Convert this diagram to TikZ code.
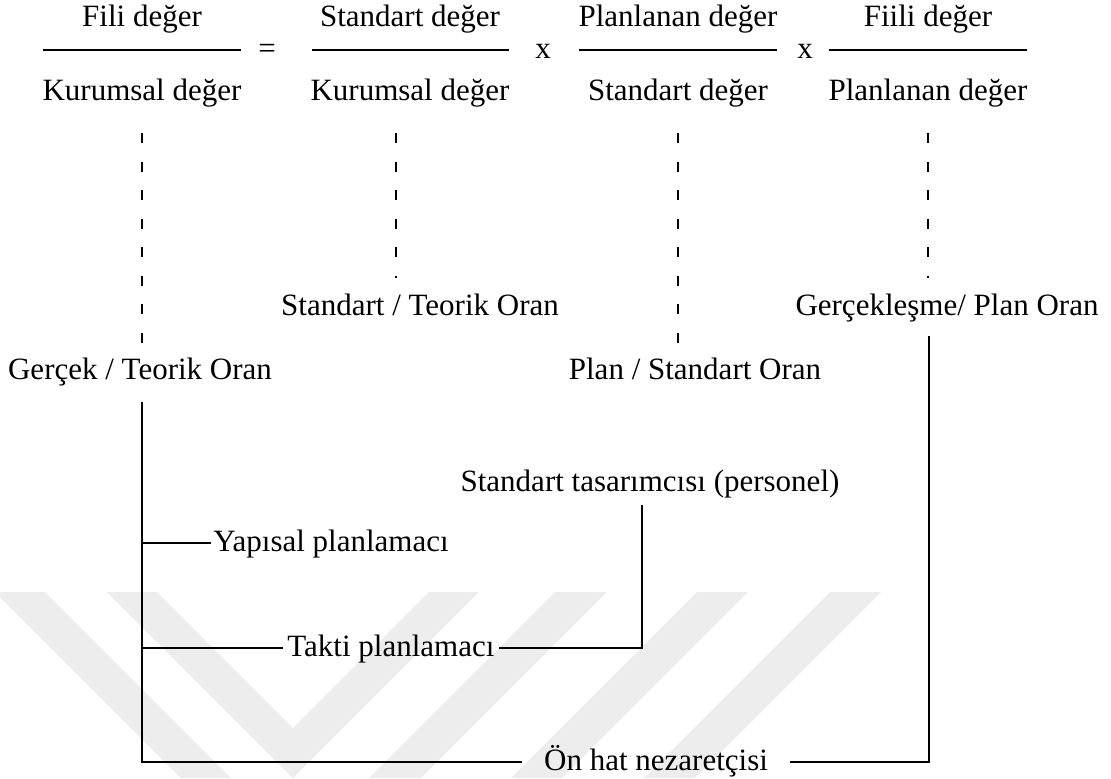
\documentclass[tikz,border=0pt]{standalone}
\usepackage{fontspec}
\setmainfont{Liberation Serif}
\usepackage{tikz}

\begin{document}
\begin{tikzpicture}[x=0.5pt, y=-0.5pt,
    lbl/.style={font=\fontsize{15.5}{18}\selectfont, text height=11pt, text depth=3pt, inner sep=2pt},
    fracln/.style={black, line width=1.3pt},
    dashln/.style={black, line width=1pt, dash pattern=on 5pt off 9.25pt},
    conn/.style={black, line width=1pt},
    wmark/.style={fill=black!7}]
    \useasboundingbox (0,0) rectangle (1111,778);

    % watermark
    \fill[wmark] (-5,592) -- (45,592) -- (231,778) -- (181,778) -- cycle;
    \fill[wmark] (107,592) -- (157,592) -- (293,728) -- (429,592) -- (479,592) -- (293,778) -- cycle;
    \fill[wmark] (555,592) -- (607,592) -- (421,778) -- (369,778) -- cycle;
    \fill[wmark] (697,592) -- (748,592) -- (562,778) -- (511,778) -- cycle;
    \fill[wmark] (830,592) -- (881,592) -- (695,778) -- (644,778) -- cycle;

    % fractions
    \node[lbl] (num1) at (142,18) {Fili değer};
    \node[lbl] (den1) at (142,92) {Kurumsal değer};
    \draw[fracln] (43,50) -- (241,50);
    \node[lbl] (eq) at (267,50) {=};
    \node[lbl] (num2) at (410,18) {Standart değer};
    \node[lbl] (den2) at (410,92) {Kurumsal değer};
    \draw[fracln] (312,50) -- (509,50);
    \node[lbl] (op1) at (543,50) {x};
    \node[lbl] (num3) at (678,18) {Planlanan değer};
    \node[lbl] (den3) at (678,92) {Standart değer};
    \draw[fracln] (579,50) -- (777,50);
    \node[lbl] (op2) at (805,50) {x};
    \node[lbl] (num4) at (928,18) {Fiili değer};
    \node[lbl] (den4) at (928,92) {Planlanan değer};
    \draw[fracln] (829,50) -- (1027,50);

    % ratios
    \node[lbl] (gt) at (140,371) {Gerçek / Teorik Oran};
    \node[lbl] (st) at (420,307) {Standart / Teorik Oran};
    \node[lbl] (ps) at (695,371) {Plan / Standart Oran};
    \node[lbl] (gp) at (947,307) {Gerçekleşme/ Plan Oran};

    \draw[dashln, shorten <=11.5pt, shorten >=3.5pt] (den1.south) -- (den1.south |- gt.north);
    \draw[dashln, shorten <=11.5pt, shorten >=5.5pt] ([xshift=-7pt]den2.south) -- ([xshift=-7pt]den2.south |- st.north);
    \draw[dashln, shorten <=11.5pt, shorten >=3.5pt] (den3.south) -- (den3.south |- ps.north);
    \draw[dashln, shorten <=11.5pt, shorten >=5.5pt] (den4.south) -- (den4.south |- gp.north);

    % roles
    \node[lbl, anchor=west, inner xsep=1pt] (yap) at (211,543) {Yapısal planlamacı};
    \node[lbl, anchor=west] (tak) at (283,648) {Takti planlamacı};
    \node[lbl] (sd) at (650,483) {Standart tasarımcısı (personel)};
    \node[lbl, inner xsep=11pt] (onh) at (656,762) {Ön hat nezaretçisi};

    \coordinate (trunk) at ([xshift=1pt]gt.south);
    \draw[conn, shorten <=6.5pt] (trunk) |- (onh.west);
    \draw[conn] (trunk |- yap.west) -- (yap.west);
    \draw[conn] (trunk |- tak.west) -- (tak.west);
    \draw[conn, shorten <=2pt] ([xshift=-4pt]sd.south) |- (tak.east);
    \draw[conn, shorten <=5.5pt] ([xshift=-9pt]gp.south) |- (onh.east);
\end{tikzpicture}
\end{document}
